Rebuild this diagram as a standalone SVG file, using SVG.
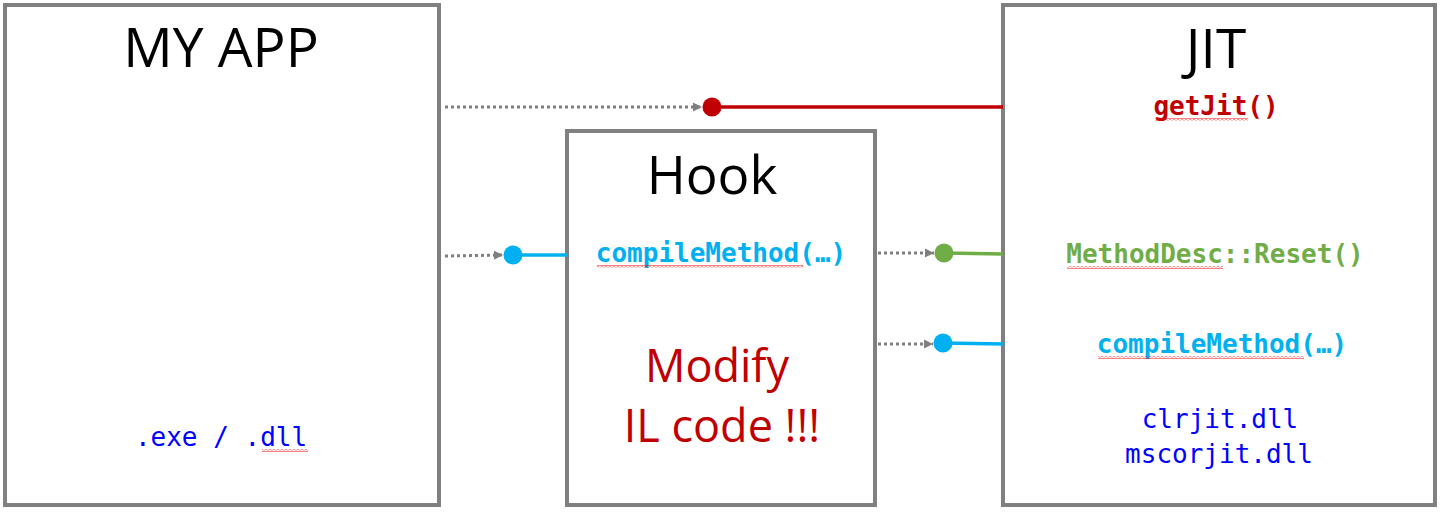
<svg xmlns="http://www.w3.org/2000/svg" width="1443" height="512" viewBox="0 0 1443 512">
<style>
.box{fill:#fff;stroke:#808080;stroke-width:4}
.title{font-family:"Open Sans","Liberation Sans",Arial,sans-serif;fill:#000;text-anchor:middle}
.code{font-family:"DejaVu Sans Mono","Liberation Mono",monospace;font-size:26px;text-anchor:middle}
.b{font-weight:bold}
.dot{stroke:#7F7F7F;stroke-width:3;stroke-dasharray:3 3;fill:none}
.red{fill:#C00000}.blue{fill:#00B0F0}.green{fill:#70AD47}.dblue{fill:#0000FF}
.sq{fill:url(#squig)}
</style>
<defs>
<marker id="arr" markerWidth="10" markerHeight="10" refX="9" refY="5" orient="auto" markerUnits="userSpaceOnUse">
<path d="M0,0.5 L9,5 L0,9.5 Z" fill="#7F7F7F"/>
</marker>
<pattern id="squig" width="4" height="3" patternUnits="userSpaceOnUse">
<polyline points="0,0.5 2,2.5 4,0.5" fill="none" stroke="#FF0000" stroke-width="1"/>
</pattern>
</defs>
<g id="myapp">
<rect class="box" x="5" y="5" width="434" height="500"/>
<text class="title" x="221" y="67" font-size="55">MY APP</text>
<text class="code dblue" x="221" y="446">.exe / .dll</text>
<rect class="sq" x="262" y="449" width="46" height="3"/>
</g>
<g id="hook">
<rect class="box" x="567" y="131" width="308" height="374"/>
<text class="title" x="712" y="194" font-size="53">Hook</text>
<text class="code b blue" x="721" y="262">compileMethod(…)</text>
<rect class="sq" x="597" y="265" width="206" height="3"/>
<text class="title red" x="717" y="382" font-size="45">Modify</text>
<text class="title red" x="722" y="442" font-size="45">IL code !!!</text>
</g>
<g id="jit">
<rect class="box" x="1003" y="5" width="432" height="500"/>
<text class="title" x="1216" y="68" font-size="55">JIT</text>
<text class="code b red" x="1216" y="115">getJit()</text>
<rect class="sq" x="1155" y="118" width="93" height="3"/>
<text class="code b green" x="1215" y="263">MethodDesc::Reset()</text>
<rect class="sq" x="1067" y="266" width="156" height="3"/>
<text class="code b blue" x="1222" y="353">compileMethod(…)</text>
<rect class="sq" x="1098" y="356" width="206" height="3"/>
<text class="code dblue" x="1220" y="428">clrjit.dll</text>
<text class="code dblue" x="1219" y="463">mscorjit.dll</text>
</g>
<g id="connectors">
<line class="dot" x1="445" y1="107" x2="702" y2="107" marker-end="url(#arr)"/>
<line x1="712" y1="107" x2="1003" y2="107" stroke="#C00000" stroke-width="3.5"/>
<circle cx="712" cy="107" r="9.5" fill="#C00000"/>
<line class="dot" x1="445" y1="256" x2="503" y2="255" marker-end="url(#arr)"/>
<line x1="513" y1="255" x2="567" y2="255" stroke="#00B0F0" stroke-width="3.5"/>
<circle cx="513" cy="255" r="9.5" fill="#00B0F0"/>
<line class="dot" x1="878" y1="253" x2="934" y2="253" marker-end="url(#arr)"/>
<line x1="944" y1="253" x2="1003" y2="254" stroke="#70AD47" stroke-width="3.5"/>
<circle cx="944" cy="253" r="9.5" fill="#70AD47"/>
<line class="dot" x1="878" y1="344" x2="933" y2="344" marker-end="url(#arr)"/>
<line x1="943" y1="343" x2="1003" y2="344" stroke="#00B0F0" stroke-width="3.5"/>
<circle cx="943" cy="343" r="9.5" fill="#00B0F0"/>
</g>
</svg>
